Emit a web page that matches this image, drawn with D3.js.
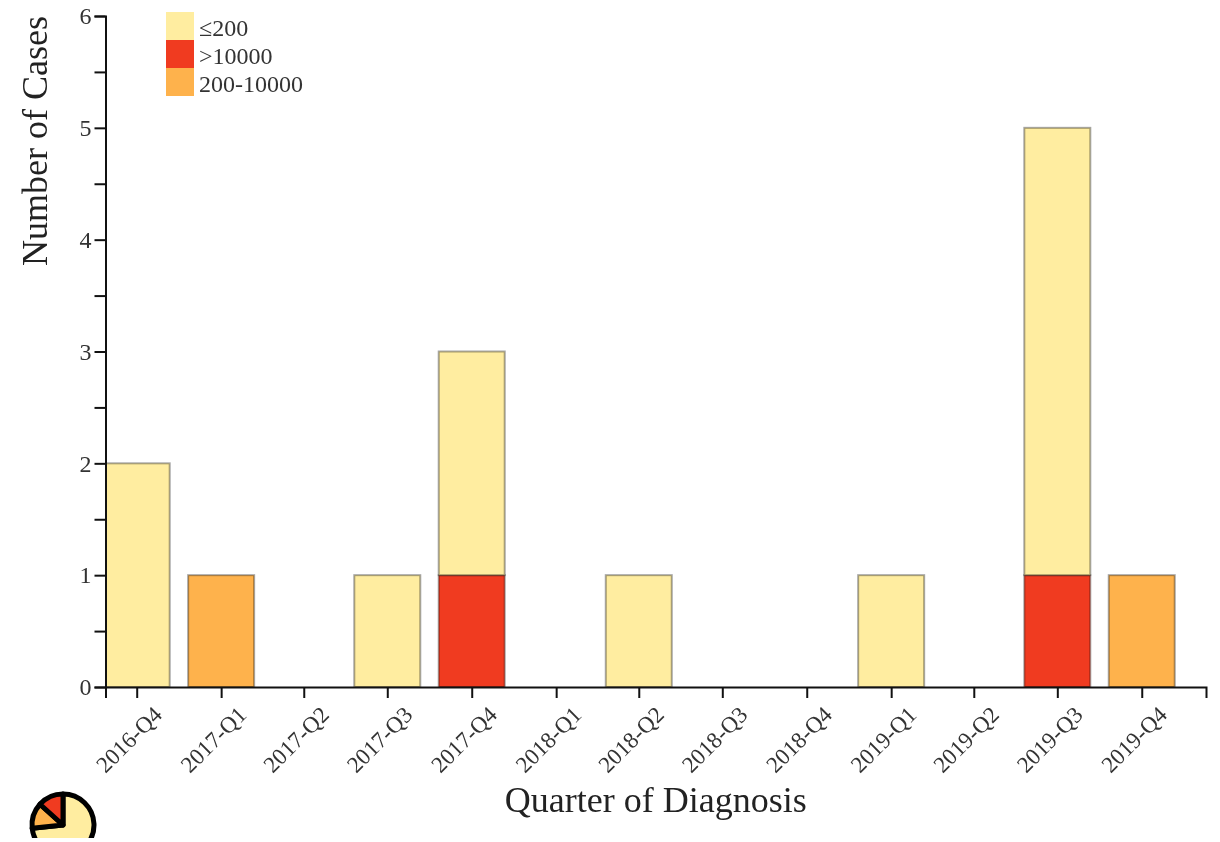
<!DOCTYPE html>
<html>
<head>
<meta charset="utf-8">
<script src="https://d3js.org/d3.v7.min.js"></script>
<style>
    html, body { margin: 0; padding: 0; background: #fff; overflow: hidden; }
    svg { display: block; filter: blur(0.6px); }
    text { font-family: "Liberation Serif", serif; fill: #222; }
    .axis text { font-size: 24px; fill: #333; }
    .x.axis text { font-size: 23px; }
    .axis path, .axis line { stroke: #111; stroke-width: 2px; }
    .title { font-size: 36px; }
    .legend text { font-size: 24px; fill: #333; }
</style>
</head>
<body>
<div id="canvas"></div>
<script>
const quarters = ["2016-Q4", "2017-Q1", "2017-Q2", "2017-Q3", "2017-Q4", "2018-Q1", "2018-Q2",
    "2018-Q3", "2018-Q4", "2019-Q1", "2019-Q2", "2019-Q3", "2019-Q4"];
const low = [2, 0, 0, 1, 2, 0, 1, 0, 0, 1, 0, 4, 0];
const mid = [0, 1, 0, 0, 0, 0, 0, 0, 0, 0, 0, 0, 1];
const high = [0, 0, 0, 0, 1, 0, 0, 0, 0, 0, 0, 1, 0];
const legendLabels = ["≤200", ">10000", "200-10000"];
const colors = ["#ffeda0", "#f03b20", "#feb24c"];
const yTicks = [0, 0.5, 1, 1.5, 2, 2.5, 3, 3.5, 4, 4.5, 5, 5.5, 6];
const domainDates = ["2016-08-28", "2019-12-10"];

const margin = {
    Top: 16,
    Right: 14,
    Bottom: 151,
    Left: 105.5
};
const svgWidth = 1220;
const svgHeight = 838;
const width = svgWidth - margin.Left - margin.Right;
const height = svgHeight - margin.Top - margin.Bottom;

// "2017-Q3" -> first day of the quarter
const quarterStart = q => new Date(Date.UTC(+q.slice(0, 4), (+q.slice(-1) - 1) * 3, 1));

const svg = d3.select("#canvas").append("svg")
    .attr("width", svgWidth)
    .attr("height", svgHeight);

const g = svg.append("g")
    .attr("transform", `translate(${margin.Left}, ${margin.Top})`);

const x = d3.scaleUtc()
    .domain(domainDates.map(d => new Date(d)))
    .range([0, width]);

const y = d3.scaleLinear()
    .domain([0, 6])
    .range([height, 0]);

const color = d3.scaleOrdinal()
    .domain(legendLabels)
    .range(colors);

const rows = quarters.map((q, i) => ({
    quarter: q,
    "≤200": low[i],
    ">10000": high[i],
    "200-10000": mid[i]
}));

const stack = d3.stack().keys([">10000", "200-10000", "≤200"]);
const barWidth = 66;

svg.append("clipPath")
    .attr("id", "plot-clip")
    .append("rect")
    .attr("width", width + 2)
    .attr("height", height + 2)
    .attr("y", -1);

const layers = g.append("g")
    .attr("clip-path", "url(#plot-clip)")
    .selectAll("g")
    .data(stack(rows))
    .enter().append("g")
    .attr("fill", d => color(d.key));

layers.selectAll("rect")
    .data(d => d.filter(p => p[1] > p[0]))
    .enter().append("rect")
    .attr("x", d => x(quarterStart(d.data.quarter)) - barWidth / 2)
    .attr("y", d => y(d[1]))
    .attr("width", barWidth)
    .attr("height", d => y(d[0]) - y(d[1]))
    .attr("stroke", "#000")
    .attr("stroke-opacity", 0.35)
    .attr("stroke-width", 2);

const xAxisCall = d3.axisBottom(x)
    .tickValues(quarters.map(quarterStart))
    .tickSize(11)
    .tickFormat((d, i) => quarters[i]);
g.append("g")
    .attr("class", "x axis")
    .attr("transform", `translate(0, ${height})`)
    .call(xAxisCall)
    .selectAll("text")
    .attr("x", 0)
    .attr("y", 0)
    .attr("dy", "0.32em")
    .attr("text-anchor", "end")
    .attr("transform", "translate(21, 24) rotate(-45)");

const yAxisCall = d3.axisLeft(y)
    .tickValues(yTicks)
    .tickSize(11)
    .tickFormat(d => Number.isInteger(d) ? d : "");
g.append("g")
    .attr("class", "y axis")
    .call(yAxisCall);

svg.append("text")
    .attr("class", "title")
    .attr("x", margin.Left + width / 2)
    .attr("y", 812)
    .attr("text-anchor", "middle")
    .text("Quarter of Diagnosis");

svg.append("text")
    .attr("class", "title")
    .attr("transform", "translate(47, 16) rotate(-90)")
    .attr("text-anchor", "end")
    .text("Number of Cases");

const legend = svg.append("g")
    .attr("class", "legend")
    .attr("transform", "translate(166, 12)");

const legendRows = legend.selectAll("g")
    .data(legendLabels)
    .enter().append("g")
    .attr("transform", (d, i) => `translate(0, ${i * 28})`);

legendRows.append("rect")
    .attr("width", 28)
    .attr("height", 28)
    .attr("fill", d => color(d));

legendRows.append("text")
    .attr("x", 33)
    .attr("y", 24)
    .text(d => d);

// small pie of the totals, cut off by the bottom of the svg
const pieData = d3.pie().sort(null)([d3.sum(low), d3.sum(mid), d3.sum(high)]);
const arc = d3.arc().innerRadius(0).outerRadius(31);
const pieColors = [colors[0], colors[2], colors[1]];

svg.append("g")
    .attr("transform", "translate(63, 825)")
    .selectAll("path")
    .data(pieData)
    .enter().append("path")
    .attr("d", arc)
    .attr("fill", (d, i) => pieColors[i])
    .attr("stroke", "#000")
    .attr("stroke-width", 5)
    .attr("stroke-linejoin", "round");
</script>
</body>
</html>
